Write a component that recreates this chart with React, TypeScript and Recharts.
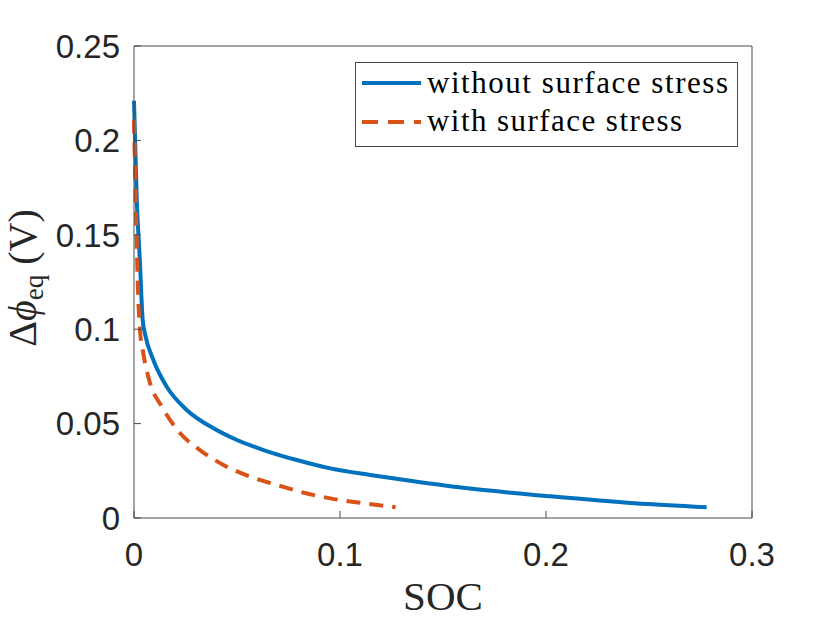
import React from "react";
import { Legend, Line, LineChart, XAxis, YAxis } from "recharts";

// SOC vs equilibrium potential difference
const socWithout = [0, 0.0013, 0.0029, 0.0042, 0.0053, 0.0094, 0.0159, 0.0256, 0.0386, 0.05, 0.0629, 0.079, 0.0953, 0.1147, 0.129, 0.162, 0.2, 0.243, 0.278];
const phiWithout = [0.221, 0.17, 0.135, 0.105, 0.0978, 0.0837, 0.0695, 0.0572, 0.0475, 0.0413, 0.036, 0.0307, 0.0263, 0.0228, 0.0205, 0.0157, 0.0117, 0.0078, 0.0057];
const socWith = [0, 0.0008, 0.0021, 0.0029, 0.0045, 0.0078, 0.0135, 0.0224, 0.032, 0.0434, 0.0564, 0.0694, 0.0824, 0.0953, 0.1115, 0.127];
const phiWith = [0.211, 0.17, 0.1155, 0.0996, 0.0873, 0.0714, 0.059, 0.0449, 0.036, 0.0281, 0.0219, 0.0175, 0.0134, 0.0104, 0.0078, 0.0057];

const xTicks = [0, 0.1, 0.2, 0.3];
const yTicks = [0, 0.05, 0.1, 0.15, 0.2, 0.25];
const seriesNames = ["without surface stress", "with surface stress"];

const withoutRows = socWithout.map((soc, i) => ({ soc, v: phiWithout[i] }));
const withRows = socWith.map((soc, i) => ({ soc, v: phiWith[i] }));

const BLUE = "#0072BD";
const ORANGE = "#D95319";
const AXIS = "#4a4a4a";
const tickFont = { fill: "#262626", fontSize: 33, fontFamily: "Liberation Sans, Arial, sans-serif" };
const serif = "Liberation Serif, Times New Roman, serif";

function fmt(v: number) {
  return String(Number(v.toFixed(2)));
}

function LegendBox() {
  return (
    <svg width={384} height={86} style={{ display: "block" }}>
      <rect x={0.5} y={0.5} width={382} height={84} fill="#fff" stroke={AXIS} strokeWidth={1} />
      <line x1={7} x2={66} y1={21} y2={21} stroke={BLUE} strokeWidth={4} />
      <text x={72} y={31} fontFamily={serif} fontSize={31} fill="#000" textLength={301} lengthAdjust="spacing">
        {seriesNames[0]}
      </text>
      <line x1={7} x2={66} y1={60} y2={60} stroke={ORANGE} strokeWidth={4} strokeDasharray="16 10" />
      <text x={72} y={69} fontFamily={serif} fontSize={31} fill="#000" textLength={255} lengthAdjust="spacing">
        {seriesNames[1]}
      </text>
    </svg>
  );
}

function YLabel() {
  return (
    <text transform="translate(36,278) rotate(-90)" textAnchor="middle" fontFamily={serif} fontSize={40} fill="#262626">
      <tspan>Δ</tspan>
      <tspan fontStyle="italic">ϕ</tspan>
      <tspan fontSize={27} dy={7}>eq</tspan>
      <tspan dy={-7}> (V)</tspan>
    </text>
  );
}

export default function App() {
  return (
    <div style={{ position: "absolute", left: 0, top: 0, width: 830, height: 623, background: "#fff" }}>
      <LineChart width={830} height={623} margin={{ top: 45, right: 77, left: 74, bottom: 45 }}>
        <XAxis
          dataKey="soc"
          type="number"
          domain={[0, 0.3]}
          ticks={xTicks}
          height={60}
          tickSize={-7}
          tickMargin={32}
          tick={tickFont}
          tickFormatter={fmt}
          stroke={AXIS}
          label={{ value: "SOC", position: "insideBottom", offset: -32, fontFamily: serif, fontSize: 41, fill: "#262626" }}
        />
        <XAxis
          xAxisId="top"
          orientation="top"
          type="number"
          domain={[0, 0.3]}
          ticks={xTicks}
          height={1}
          tickSize={-7}
          tickFormatter={() => ""}
          stroke={AXIS}
        />
        <YAxis
          type="number"
          domain={[0, 0.25]}
          ticks={yTicks}
          width={60}
          tickSize={-7}
          tickMargin={21}
          tick={tickFont}
          tickFormatter={fmt}
          stroke={AXIS}
          label={{ content: <YLabel /> }}
        />
        <YAxis
          yAxisId="right"
          orientation="right"
          type="number"
          domain={[0, 0.25]}
          ticks={yTicks}
          width={1}
          tickSize={-7}
          tickFormatter={() => ""}
          stroke={AXIS}
        />
        <Legend
          layout="vertical"
          align="center"
          verticalAlign="middle"
          content={() => <LegendBox />}
          wrapperStyle={{ position: "absolute", left: 355, top: 62, width: 384, height: 86 }}
        />
        <Line data={withoutRows} dataKey="v" name={seriesNames[0]} type="monotone" stroke={BLUE} strokeWidth={4} dot={false} isAnimationActive={false} />
        <Line data={withRows} dataKey="v" name={seriesNames[1]} type="monotone" stroke={ORANGE} strokeWidth={4} strokeDasharray="14 9" dot={false} isAnimationActive={false} />
      </LineChart>
    </div>
  );
}
